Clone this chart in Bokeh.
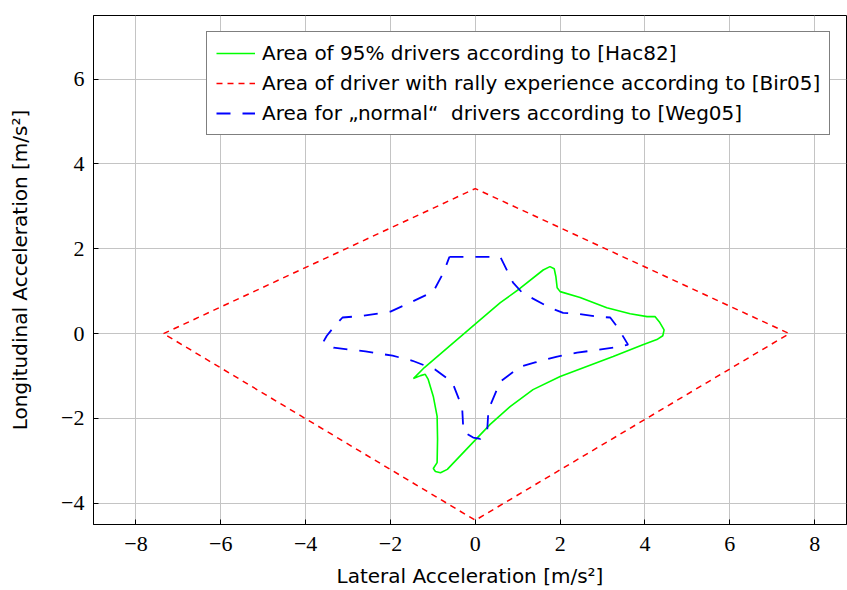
from bokeh.plotting import figure
from bokeh.models import Range1d, Legend, LegendItem, FixedTicker
from bokeh.embed import file_html
from bokeh.resources import INLINE

# Area of 95% drivers according to [Hac82]
green_x = [-1.46, -1.2, 0.12, 0.59, 1.06, 1.6, 1.76, 1.86, 1.9, 1.93, 2.0, 2.47, 3.1, 3.65,
           4.05, 4.24, 4.35, 4.45, 4.42, 4.28, 3.95, 3.25, 2.0, 1.36, 0.82, 0.35, 0.12,
           -0.66, -0.82, -0.94, -0.99, -0.9, -0.89, -0.9, -0.99, -1.11, -1.18, -1.29, -1.46]
green_y = [-1.06, -0.8, 0.33, 0.73, 1.07, 1.5, 1.58, 1.53, 1.34, 1.08, 0.99, 0.85, 0.61, 0.47,
           0.40, 0.40, 0.26, 0.09, -0.05, -0.14, -0.26, -0.54, -1.01, -1.32, -1.72, -2.14, -2.38,
           -3.2, -3.28, -3.25, -3.18, -3.04, -2.49, -1.95, -1.48, -1.08, -0.96, -0.99, -1.06]

# Area of driver with rally experience according to [Bir05]
red_x = [-7.35, 0.0, 7.4, 0.0, -7.35]
red_y = [0.0, 3.42, 0.0, -4.4, 0.0]

# Area for "normal" drivers according to [Weg05]
blue_x = [-0.61, 0.59, 0.89, 1.11, 1.76, 2.07, 2.4, 2.87, 3.18, 3.36, 3.6, 3.25, 2.4, 1.93,
          1.41, 1.06, 0.59, 0.31, 0.28, 0.12, -0.05, -0.28, -0.31, -0.54, -0.94, -1.48, -1.95,
          -2.59, -3.34, -3.58, -3.5, -3.29, -3.13, -2.64, -2.0, -1.58, -0.99, -0.75, -0.61]
blue_y = [1.81, 1.81, 1.2, 0.96, 0.61, 0.49, 0.47, 0.4, 0.38, 0.14, -0.26, -0.33, -0.45, -0.54,
          -0.68, -0.78, -1.13, -1.79, -2.3, -2.48, -2.45, -2.31, -1.74, -1.15, -0.85, -0.64, -0.52,
          -0.42, -0.33, -0.19, -0.05, 0.21, 0.38, 0.42, 0.52, 0.71, 0.99, 1.44, 1.81]

x_ticks = [-8, -6, -4, -2, 0, 2, 4, 6, 8]
y_ticks = [-4, -2, 0, 2, 4, 6]
tick_labels_x = {t: ("\u2212" + str(-t) if t < 0 else str(t)) for t in x_ticks}
tick_labels_y = {t: ("\u2212" + str(-t) if t < 0 else str(t)) for t in y_ticks}

SANS = "DejaVu Sans"
SERIF = "Liberation Serif"

p = figure(width=847, height=590, x_range=Range1d(-9, 8.75), y_range=Range1d(-4.5, 7.5),
           output_backend="svg", toolbar_location=None,
           min_border_left=93, min_border_right=1, min_border_top=15, min_border_bottom=66)

p.outline_line_color = "black"
p.outline_line_width = 1
p.outline_line_alpha = 1

for ax, ticks, labels in ((p.xaxis[0], x_ticks, tick_labels_x), (p.yaxis[0], y_ticks, tick_labels_y)):
    ax.ticker = FixedTicker(ticks=ticks)
    ax.major_label_overrides = labels
    ax.major_label_text_font = SERIF
    ax.major_label_text_font_size = "22px"
    ax.major_label_text_color = "black"
    ax.axis_label_text_font = SANS
    ax.axis_label_text_font_size = "20px"
    ax.axis_label_text_font_style = "normal"
    ax.axis_label_text_color = "black"
    ax.major_tick_in = 5
    ax.major_tick_out = 0
    ax.minor_tick_in = 0
    ax.minor_tick_out = 0
    ax.axis_line_color = "black"
    ax.major_tick_line_color = "black"

p.xaxis.axis_label = "Lateral Acceleration [m/s\u00b2]"
p.yaxis.axis_label = "Longitudinal Acceleration [m/s\u00b2]"
p.xaxis.major_label_standoff = 12
p.xaxis.axis_label_standoff = 10
p.yaxis.major_label_standoff = 9
p.yaxis.axis_label_standoff = 26

p.grid.grid_line_color = "#c4c4c4"
p.grid.grid_line_width = 1

g = p.line(green_x, green_y, line_color="#00ff00", line_width=1.6)
r = p.line(red_x, red_y, line_color="#ff0000", line_width=1.5, line_dash="6 5")
b = p.line(blue_x, blue_y, line_color="#0000ff", line_width=1.8, line_dash="14 12")

legend = Legend(items=[
    LegendItem(label="Area of 95% drivers according to [Hac82]", renderers=[g]),
    LegendItem(label="Area of driver with rally experience according to [Bir05]", renderers=[r]),
    LegendItem(label="Area for \u201enormal\u201c  drivers according to [Weg05]", renderers=[b]),
], location=(113, 389))
legend.label_text_font = SANS
legend.label_text_font_size = "20px"
legend.label_text_color = "black"
legend.glyph_width = 39
legend.glyph_height = 24
legend.label_height = 24
legend.spacing = 6
legend.padding = 9
legend.margin = 0
legend.label_standoff = 7
legend.border_line_color = "black"
legend.border_line_width = 1
legend.background_fill_color = "white"
legend.background_fill_alpha = 1
p.add_layout(legend, "center")

open("out.html", "w").write(file_html(p, INLINE))
